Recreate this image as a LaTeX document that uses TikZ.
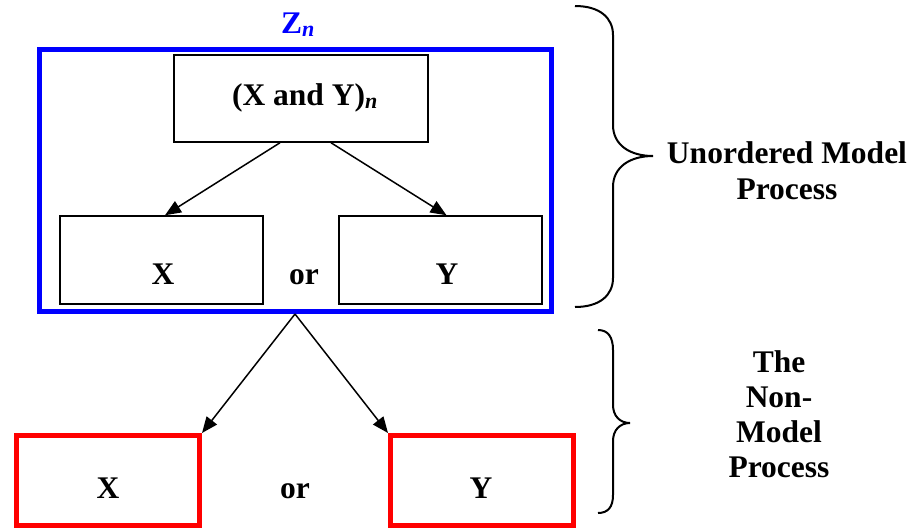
\documentclass[tikz,border=0pt]{standalone}
\usepackage{fontspec}
\setmainfont{Liberation Serif}
\usetikzlibrary{arrows.meta}
\begin{document}
\begin{tikzpicture}[x=1pt,y=-1pt,
  lbl/.style={font=\fontsize{31.5}{36}\selectfont\bfseries, inner sep=0pt, anchor=base},
  box/.style={draw=black, line width=1.5pt, minimum width=#1, inner sep=0pt},
  outerbox/.style={draw=blue, line width=5pt, inner sep=0pt},
  redbox/.style={draw=red, line width=5pt, inner sep=0pt, minimum width=183pt, minimum height=90pt},
  conn/.style={draw=black, line width=1.5pt, -{Triangle[length=16pt,width=13pt]}},
  bracepath/.style={draw=black, line width=2pt}]
\useasboundingbox (0,0) rectangle (921,528);
% outer blue box
\node[outerbox, minimum width=512pt, minimum height=262pt] (zbox) at (295,180.5) {};
\node[lbl, text=blue] (zlabel) at (298,33) {Z\textsubscript{\itshape n}};
% inner boxes
\node[box=254pt, minimum height=87pt] (xy) at (301,98.5) {};
\node[lbl] (xytext) at (305,105) {(X and Y)\textsubscript{\itshape n}};
\node[box=203pt, minimum height=88pt] (ix) at (161.5,260) {};
\node[box=203pt, minimum height=88pt] (iy) at (440.5,260) {};
\node[lbl] (ixtext) at (163,284) {X};
\node[lbl] (iortext) at (304,284) {or};
\node[lbl] (iytext) at (447,284) {Y};
% red boxes
\node[redbox] (rx) at (108,480.5) {};
\node[redbox] (ry) at (482,480.5) {};
\node[lbl] (rxtext) at (108,498) {X};
\node[lbl] (rortext) at (295,498) {or};
\node[lbl] (rytext) at (481,498) {Y};
% arrows
\draw[conn] ([xshift=-21pt]xy.south) -- ([xshift=3.5pt]ix.north);
\draw[conn] ([xshift=30pt]xy.south) -- ([xshift=6pt]iy.north);
\draw[conn] (zbox.south) -- (rx.north east);
\draw[conn] (zbox.south) -- (ry.north west);
% braces
\coordinate (b1a) at (575,6);
\coordinate (b1b) at (575,307);
\draw[bracepath] (b1a) .. controls (600,6) and (613,18) .. (613,35) -- (613,125)
  .. controls (613,145) and (630,156) .. (653,156)
  .. controls (630,156) and (613,167) .. (613,187) -- (613,278)
  .. controls (613,295) and (600,307) .. (b1b);
\coordinate (b2a) at (598,330);
\coordinate (b2b) at (598,513);
\draw[bracepath] (b2a) .. controls (608,330) and (613,337) .. (613,350) -- (613,405)
  .. controls (613,416) and (620,423) .. (630,423)
  .. controls (620,423) and (613,430) .. (613,441) -- (613,495)
  .. controls (613,507) and (608,513) .. (b2b);
% side labels
\node[lbl] (u1) at (787,163) {Unordered Model};
\node[lbl] (u2) at (787,199) {Process};
\node[lbl] (n1) at (779,372) {The};
\node[lbl] (n2) at (779,407) {Non-};
\node[lbl] (n3) at (779,442) {Model};
\node[lbl] (n4) at (779,477) {Process};
\end{tikzpicture}
\end{document}
